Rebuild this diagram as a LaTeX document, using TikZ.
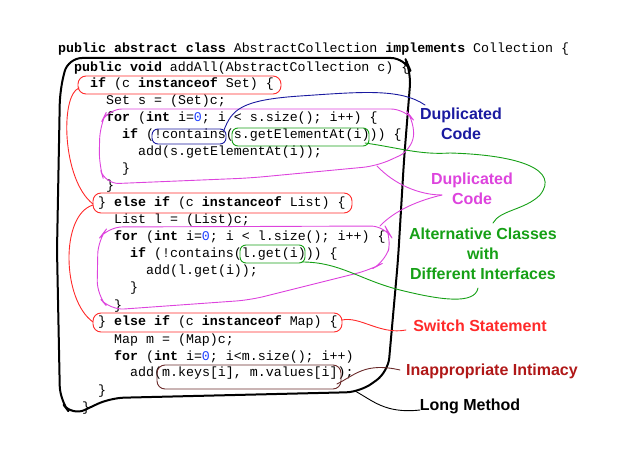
\documentclass[tikz,border=0pt]{standalone}
\usepackage{fontspec}
\setmainfont{Liberation Sans}
\setmonofont{Liberation Mono}
\begin{document}
\begin{tikzpicture}[x=1pt,y=-1pt,
  cl/.style={anchor=base west,inner sep=0pt,font=\fontsize{13.3}{14}\ttfamily},
  lab/.style={font=\fontsize{16}{20}\selectfont\bfseries,align=center,inner sep=0pt},
  hand/.style={line width=0.9pt,line cap=round,line join=round},
  oval/.style={hand,rounded corners=8pt}]
\definecolor{rd}{HTML}{FF2A2A}\definecolor{mg}{HTML}{DD44DD}
\definecolor{gr}{HTML}{16A016}\definecolor{bl}{HTML}{1A1AA0}
\definecolor{br}{HTML}{6A2A2A}\definecolor{dr}{HTML}{B01818}
\definecolor{num}{HTML}{2040FF}
\useasboundingbox (0,0) rectangle (627,465);
\newcommand{\kw}[1]{\textbf{#1}}
\newcommand{\zr}{\textcolor{num}{0}}
\node[cl] (l0) at (58,53) {\kw{public abstract class} AbstractCollection \kw{implements} Collection \{};
\node[cl] (l1) at (74,72) {\kw{public void} addAll(AbstractCollection c) \{};
\node[cl] (l2) at (90,88) {\kw{if} (c \kw{instanceof} Set) \{};
\node[cl] (l3) at (106,105) {Set s = (Set)c;};
\node[cl] (l4) at (106,122) {\kw{for} (\kw{int} i=\zr; i < s.size(); i++) \{};
\node[cl] (l5) at (122,139) {\kw{if} (!contains(s.getElementAt(i))) \{};
\node[cl] (l6) at (138,156) {add(s.getElementAt(i));};
\node[cl] (l7) at (122,173) {\}};
\node[cl] (l8) at (106,190) {\}};
\node[cl] (l9) at (98,207) {\} \kw{else if} (c \kw{instanceof} List) \{};
\node[cl] (l10) at (114,224) {List l = (List)c;};
\node[cl] (l11) at (114,241) {\kw{for} (\kw{int} i=\zr; i < l.size(); i++) \{};
\node[cl] (l12) at (130,258) {\kw{if} (!contains(l.get(i))) \{};
\node[cl] (l13) at (146,275) {add(l.get(i));};
\node[cl] (l14) at (130,292) {\}};
\node[cl] (l15) at (114,309) {\}};
\node[cl] (l16) at (98,326) {\} \kw{else if} (c \kw{instanceof} Map) \{};
\node[cl] (l17) at (114,343) {Map m = (Map)c;};
\node[cl] (l18) at (114,360) {\kw{for} (\kw{int} i=\zr; i<m.size(); i++)};
\node[cl] (l19) at (130,377) {add(m.keys[i], m.values[i]);};
\node[cl] (l20) at (98,394) {\}};
\node[cl] (l21) at (82,411) {\}};
% labels
\node[lab,text=bl] (dup1) at (461,124) {Duplicated\\Code};
\node[lab,text=mg] (dup2) at (472,189) {Duplicated\\Code};
\node[lab,text=gr] (alt) at (483,254) {Alternative Classes\\with\\Different Interfaces};
\node[lab,text=rd] (sw) at (480,326) {Switch Statement};
\node[lab,text=dr] (ii) at (492,371) {Inappropriate Intimacy};
\node[lab,text=black] (lm) at (470,406) {Long Method};
% outer black loop
\draw[hand,line width=2pt,rounded corners=14pt] (60,90) -- (68,58) -- (405,58) -- (411,72) -- (404,160) -- (398,260) -- (388,372) -- (360,392) -- (110,398) -- (72,416) -- (60,400) -- (57,250) -- cycle;
\coordinate (lmend) at (420,410);
\draw[hand,black] (355,391) .. controls (372,400) and (385,414) .. (lmend);
% red ovals
\draw[oval,rd] (78,76) rectangle (281,94);
\draw[oval,rd] (93,193) rectangle (352,213);
\draw[oval,rd] (93,313) rectangle (342,332);
\draw[hand,rd] (79,88) .. controls (60,95) and (62,180) .. (93,204);
\draw[hand,rd] (93,205) .. controls (60,215) and (62,300) .. (93,322);
\coordinate (swend) at (406,330);
\draw[hand,rd] (342,320) .. controls (360,316) and (380,335) .. (swend);
% magenta loops
\draw[hand,mg,rounded corners=14pt] (100,125) -- (108,109) -- (405,109) -- (415,122) -- (412,150) -- (377,166) -- (250,178) -- (105,184) -- (99,165) -- cycle;
\coordinate (mgend) at (442,195);
\draw[hand,mg] (377,166) .. controls (395,185) and (420,195) .. (mgend);
\draw[hand,mg] (mgend) .. controls (420,200) and (395,210) .. (380,226);
\draw[hand,mg,rounded corners=14pt] (98,240) -- (108,227) -- (385,226) -- (392,238) -- (385,262) -- (370,270) -- (250,300) -- (110,310) -- (97,295) -- cycle;
% blue
\draw[oval,bl,rounded corners=6pt] (152,129) rectangle (226,144);
\coordinate (dup1end) at (425,105);
\draw[hand,bl] (224,130) .. controls (232,110) and (240,100) .. (300,96) .. controls (360,92) and (400,88) .. (dup1end);
% green
\draw[oval,gr,rounded corners=6pt] (232,128) rectangle (369,146);
\coordinate (altend1) at (493,223);
\draw[hand,gr] (365,143) .. controls (400,148) and (420,155) .. (450,153) .. controls (520,155) and (560,170) .. (540,195) .. controls (525,210) and (500,210) .. (altend1);
\draw[oval,gr,rounded corners=6pt] (240,245) rectangle (305,263);
\coordinate (altend2) at (478,288);
\draw[hand,gr] (302,262) .. controls (340,262) and (360,280) .. (400,290) .. controls (440,300) and (475,305) .. (altend2);
% brown
\draw[oval,br] (157,365) rectangle (341,389);
\coordinate (iiend) at (400,370);
\draw[hand,br] (337,384) .. controls (355,375) and (365,362) .. (iiend);
\end{tikzpicture}
\end{document}
